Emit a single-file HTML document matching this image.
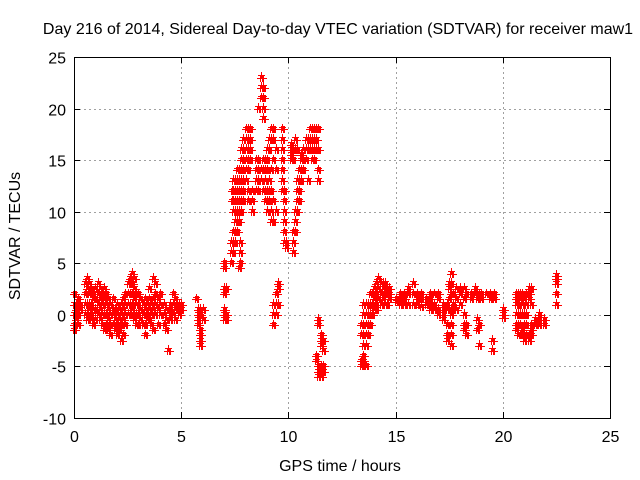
<!DOCTYPE html>
<html><head><meta charset="utf-8"><style>
body{margin:0;background:#fff;}
svg{display:block;font-family:"Liberation Sans",sans-serif;}
</style></head><body>
<svg id="chart" width="640" height="480" viewBox="0 0 640 480" xmlns="http://www.w3.org/2000/svg">
<rect width="640" height="480" fill="#fff"/>
<text x="338" y="34" font-size="16" text-anchor="middle">Day 216 of 2014, Sidereal Day-to-day VTEC variation (SDTVAR) for receiver maw1</text>
<g id="grid"></g>
<g id="ticks"></g>
<g id="marks"></g>
<rect x="74.5" y="57.5" width="536" height="361" fill="none" stroke="#000" stroke-width="1" shape-rendering="crispEdges"/>
<text x="340" y="471" font-size="16" text-anchor="middle">GPS time / hours</text>
<text transform="translate(20,236) rotate(-90)" font-size="16" text-anchor="middle">SDTVAR / TECUs</text>
</svg>
<script>
const xTicks=[0,5,10,15,20,25];
const yTicks=[-10,-5,0,5,10,15,20,25];
const hours=[0.0,0.1,0.2,0.3,0.5,0.6,0.7,0.8,0.9,1.0,1.1,1.2,1.3,1.4,1.5,1.6,1.7,1.8,1.9,2.0,2.1,2.2,2.3,2.4,2.5,2.6,2.7,2.8,2.9,3.0,3.1,3.2,3.3,3.4,3.5,3.6,3.7,3.8,3.9,4.0,4.2,4.3,4.4,4.5,4.6,4.7,4.8,4.9,5.0,5.7,5.8,5.9,6.0,7.0,7.1,7.3,7.35,7.4,7.5,7.6,7.7,7.75,7.8,7.9,8.0,8.1,8.2,8.3,8.5,8.6,8.7,8.8,8.9,9.0,9.1,9.2,9.3,9.4,9.5,9.7,9.8,9.9,10.1,10.2,10.3,10.4,10.5,10.6,10.7,10.8,10.9,11.0,11.1,11.2,11.3,11.4,11.5,11.6,
13.4,13.5,13.6,13.7,13.8,13.9,14.0,14.1,14.2,14.3,14.4,14.5,14.6,14.7,15.0,15.2,15.4,15.6,15.8,16.0,16.2,16.4,16.6,16.8,17.0,17.2,17.4,17.5,17.6,17.7,17.8,18.0,18.2,18.3,18.5,18.7,18.8,18.9,19.0,19.2,19.4,19.5,19.6,20.0,20.6,20.7,20.8,20.9,21.0,21.1,21.2,21.3,21.5,21.7,21.9,22.5];
const sdtvar=[[-1,0,1,2,-1.5],[0,1,-0.5,0.5],[1,0,-1,1.5],[0.5,1],[1,2,3,0],[2.5,3.5,1,0,-0.5],[3,2,1,0.5],[2,1,0,-0.5,2.5],[1.5,0.5,-1,2],[2.5,1.5,0.5,-0.5],[2,1,0,3],[1.5,0.5,-0.5,2.5],[2,1,0,-1],[1.5,0,-1.5,2.5],[1,0,-1,2],[0.5,-0.5,-1.5,1.5],[1,0,-1,-2],[0,-1,0.5,1.5],[-0.5,-1.5,0.5],[0,-1,-2,1],[-0.5,-1.5,0.5],[0,-1,-2.5,1],[-0.5,-2,0.5,1.5],[0,-1,1,2],[1,2,3,0],[2,3,3.5,1,0],[3,4,2,1,0.5],[2.5,3.5,1.5,0,-0.5],[2,1,0,-1],[1,0,-1,2],[0.5,-0.5,1.5],[0,-1,1],[0.5,1.5,-1,-2],[0,1,-0.5],[0.5,1.5,2.5,-0.5],[1,0,-1],[0.5,1.5,3.5,-1.5],[1,2,3,0],[0.5,-1,1.5],[0,2,1],[1,0,-1],[0.5,-0.5,-1.5],[-3.5],[0.5,1,0,-0.5],[1,0,2],[0.5,1.5,-0.5],[1,0.5],[1,0.5,0],[0.5,1],[1.5],[0.5,0,-0.5,-1],[0,0.5,-1.5,-2,-2.5,-3],[0.5,-0.5],[5,4.5,2.5,2,0.5,0,-0.5],[2.5,0,-0.5],[5,6,7],[11,12],[6,7,8,10,11,12,13],[7,8,9,10,11,12,13],[8,9,10,11,12,13,14],[9,10,11,12,13,14,4.5],[5,6,7],[10,11,12,13,14,15,16],[11,12,13,14,15,16,17],[13,14,15,16,17,18],[14,15,16,17,18,11,12],[16,17,18,15],[12,11,10],[13,12,14,15],[12,13,14,15,20],[21,22,23,13,14],[22,21,20,19,12,14,15],[15,14,13,12,11],[15,16,14,12,11,10],[16,17,13,12,11],[17,18,14,12,10,9],[18,17,15,11,9,-1,0,1],[16,14,10,1,2,0],[2.5,3,1],[18,17,16,15,14,13,12],[12,11,10,9,8,7],[7,6.5],[15,15.5,16,16.5],[6,7,8,15,16],[8,9,10,16,17],[10,11,12,13,16],[11,12,13,14],[13,14,15,15.5],[14,15,16],[15,16,17],[16,17,13],[16,17,18],[16,17,18,15],[17,18,16,15],[18,17,16,-4,-4.5],[18,16,14,13,-5,-5.5,-6,-1,-0.5],[-5.5,-6,-5,-2,-2.5,-3],[-5.5,-5,-2.5,-3.5],
[-5,-4.5,-2,-1],[-4,-3,-2,-1,0,1,-4.5,-5],[-3,-2,-1,0,1,-5],[-2,-1,0,1],[-1,0,1,2],[0,1,2],[0.5,1.5,2.5],[1,2,3,0.5],[1.5,2.5,3.5],[1,2,3],[1.5,2.5,3],[1,2,3],[1,2,2.5],[1.5,2,2.5],[1.5,1.2],[1,2,1.5],[1,1.5,2],[1,2,2.5],[1,2,3],[1,2,1.5],[0.8,1.5,2],[1,1.5],[0.5,1,1.5,2],[0.5,1,2],[1.5,2,0.5,0],[1,0,-0.5,0.5],[0.5,-1,-2,-2.5,1],[3,2.5,1.5,0.5],[4,3,2,0.5,0,-1,-2,-3],[2,1,0.5],[2.5,1.5,0.5],[2,1,2.5],[1.5,2.5,0,-1,-1.5],[2,-1,-2],[2,1.5],[2.5,2],[2,1.5,-0.5,-1.5],[2,-1,-3],[2,1.5],[2],[1.5,2],[-2.5,-3.5],[1.5,2],[0,0.5,-0.3],[2,1.5,1,0,-1,-1.5],[2,1,0,-1,-2],[2,1.5,0,-1,-2],[2,1,0,-1.5],[1.5,0,-1,-2,-2.5],[2,1,0,-1,-2],[2.5,2,1.5,-2,-2.5],[2.5,1,-1,-2,-1.5],[-0.5,-1],[-1,-0.5,0],[-0.5,-1],[3.8,3.5,3,2,1]];

const NS="http://www.w3.org/2000/svg";
const L=74,R=610,T=57,B=418;
function sx(v){return L+(v-0)/25*(R-L);}
function sy(v){return B-(v+10)/35*(B-T);}
const grid=document.getElementById('grid'),ticks=document.getElementById('ticks'),marks=document.getElementById('marks');
function mk(tag,attrs,parent){const e=document.createElementNS(NS,tag);for(const k in attrs)e.setAttribute(k,attrs[k]);parent.appendChild(e);return e;}
xTicks.forEach(v=>{
  const x=Math.round(sx(v))+0.5;
  if(v>0&&v<25){const g=mk('line',{x1:x,y1:T,x2:x,y2:B,stroke:'#a0a0a0','stroke-dasharray':'2,3','shape-rendering':'crispEdges'},grid);
  
  }
  mk('line',{x1:x,y1:B,x2:x,y2:B-6,stroke:'#000','shape-rendering':'crispEdges'},ticks);
  mk('line',{x1:x,y1:T,x2:x,y2:T+6,stroke:'#000','shape-rendering':'crispEdges'},ticks);
  const t=mk('text',{x:x,y:B+24,'font-size':16,'text-anchor':'middle'},ticks);
  t.textContent=v;
  
  
});
yTicks.forEach(v=>{
  const y=Math.round(sy(v))+0.5;
  if(v>-10&&v<25){const g=mk('line',{x1:L,y1:y,x2:R,y2:y,stroke:'#a0a0a0','stroke-dasharray':'2,3','shape-rendering':'crispEdges'},grid);
  
  }
  mk('line',{x1:L,y1:y,x2:L+6,y2:y,stroke:'#000','shape-rendering':'crispEdges'},ticks);
  mk('line',{x1:R,y1:y,x2:R-6,y2:y,stroke:'#000','shape-rendering':'crispEdges'},ticks);
  const t=mk('text',{x:L-8,y:y+6,'font-size':16,'text-anchor':'end'},ticks);
  t.textContent=v;
  
  
});
let d='';
const spread=[-1,0,1];
hours.forEach((h,i)=>{
  sdtvar[i].forEach(v=>{
    spread.forEach(o=>{
      const x=Math.round(sx(h))+o*1.5+0.5,y=Math.round(sy(v))+0.5;
      d+=`M${Math.round(x-3.5)},${y}h7M${Math.round(x)+0.5},${y-3.5}v7`;
    });
    const x=Math.round(sx(h))+0.5,y=Math.round(sy(v+0.25))+0.5;
    d+=`M${x-3.5},${y}h7M${x},${y-3.5}v7`;
  });
});
const p=mk('path',{d:d,stroke:'#ff0000','stroke-width':1,fill:'none','shape-rendering':'crispEdges'},marks);


</script>
</body></html>
